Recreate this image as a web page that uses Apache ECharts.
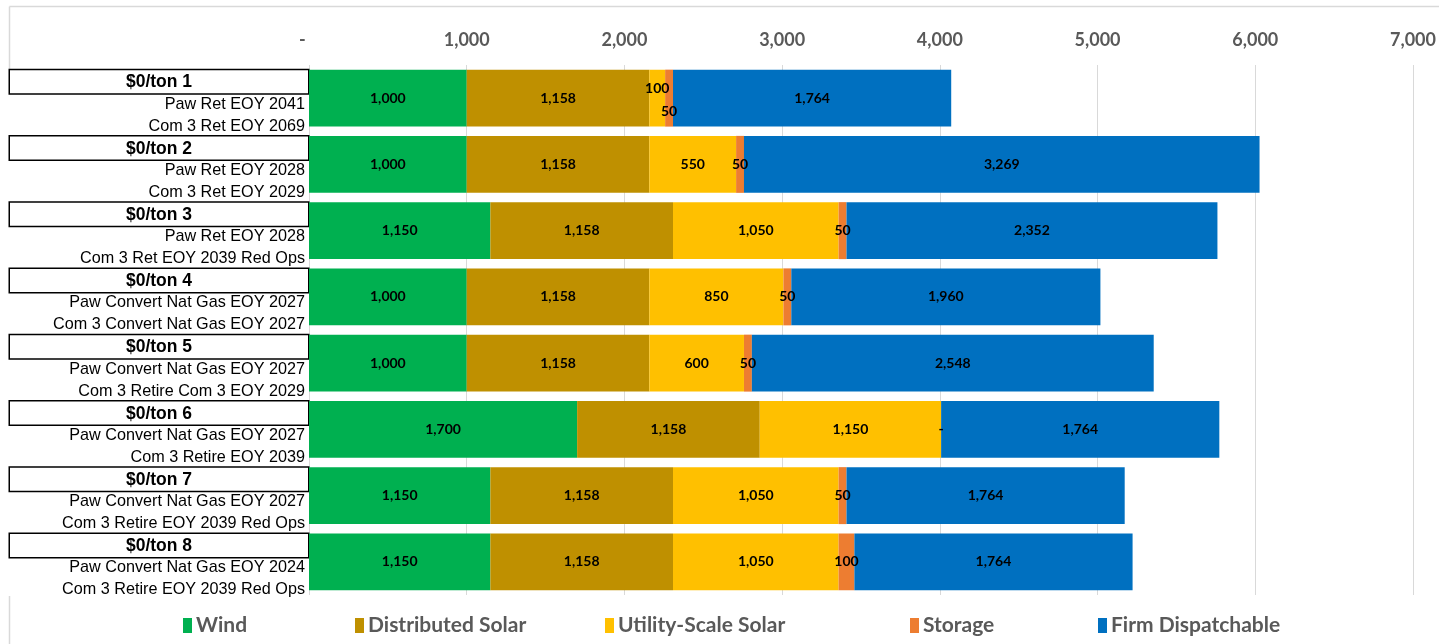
<!DOCTYPE html>
<html>
<head>
<meta charset="utf-8">
<title>Resource portfolio by scenario</title>
<script src="https://cdn.jsdelivr.net/npm/echarts@6/dist/echarts.min.js"></script>
<style>
  html, body { margin: 0; padding: 0; background: #fff; }
  #chart { width: 1439px; height: 644px; }
</style>
</head>
<body>
<div id="chart"></div>
<script>
// Scenario labels (three lines per row)
const scenarioTitles = ['$0/ton 1', '$0/ton 2', '$0/ton 3', '$0/ton 4', '$0/ton 5', '$0/ton 6', '$0/ton 7', '$0/ton 8'];
const pawLines = [
  'Paw Ret EOY 2041',
  'Paw Ret EOY 2028',
  'Paw Ret EOY 2028',
  'Paw Convert Nat Gas EOY 2027',
  'Paw Convert Nat Gas EOY 2027',
  'Paw Convert Nat Gas EOY 2027',
  'Paw Convert Nat Gas EOY 2027',
  'Paw Convert Nat Gas EOY 2024'
];
const comLines = [
  'Com 3 Ret EOY 2069',
  'Com 3 Ret EOY 2029',
  'Com 3 Ret EOY 2039 Red Ops',
  'Com 3 Convert Nat Gas EOY 2027',
  'Com 3 Retire Com 3 EOY 2029',
  'Com 3 Retire EOY 2039',
  'Com 3 Retire EOY 2039 Red Ops',
  'Com 3 Retire EOY 2039 Red Ops'
];

// Capacity by resource type (MW)
const seriesNames = ['Wind', 'Distributed Solar', 'Utility-Scale Solar', 'Storage', 'Firm Dispatchable'];
const wind       = [1000, 1000, 1150, 1000, 1000, 1700, 1150, 1150];
const distSolar  = [1158, 1158, 1158, 1158, 1158, 1158, 1158, 1158];
const utilSolar  = [100, 550, 1050, 850, 600, 1150, 1050, 1050];
const storage    = [50, 50, 50, 50, 50, 0, 50, 100];
const firm       = [1764, 3269, 2352, 1960, 2548, 1764, 1764, 1764];

// Value axis ticks
const axisMax = 7000;
const axisStep = 1000;

const colors = ['#00B050', '#BF9000', '#FFC000', '#ED7D31', '#0070C0'];
const seriesValues = [wind, distSolar, utilSolar, storage, firm];

// Nudges for crowded labels in the first row
const labelNudge = { 'Utility-Scale Solar': { 0: [0, -10] }, 'Storage': { 0: [0, 13] } };

// Left edge of each legend entry
const legendLeft = [183, 355, 605, 910, 1098];

function fmtNum(v) {
  if (v === 0) return '-';
  return v.toLocaleString('en-US');
}

const chart = echarts.init(document.getElementById('chart'), null, { renderer: 'canvas' });

const series = seriesNames.map((name, si) => ({
  name: name,
  type: 'bar',
  stack: 'total',
  barCategoryGap: '14%',
  itemStyle: { color: colors[si] },
  label: {
    show: true,
    position: 'inside',
    color: '#000',
    fontFamily: 'Lato',
    fontWeight: 'bold',
    fontSize: 14,
    formatter: p => fmtNum(p.value)
  },
  emphasis: { disabled: true },
  data: seriesValues[si].map((v, i) => {
    const nudge = labelNudge[name] && labelNudge[name][i];
    return nudge ? { value: v, label: { offset: nudge } } : v;
  })
}));

const legends = seriesNames.map((name, i) => ({
  bottom: 8,
  left: legendLeft[i],
  itemWidth: 9,
  itemHeight: 15,
  icon: 'rect',
  selectedMode: false,
  padding: 0,
  textStyle: {
    color: '#595959',
    fontFamily: 'Lato',
    fontWeight: 'bold',
    fontSize: 21,
    padding: [0, 0, 0, -1]
  },
  data: [name]
}));

chart.setOption({
  animation: false,
  backgroundColor: '#fff',
  color: colors,
  grid: { left: 309, right: 26, top: 65, bottom: 49, containLabel: false },
  xAxis: {
    type: 'value',
    position: 'top',
    min: 0,
    max: axisMax,
    interval: axisStep,
    axisLine: { show: false },
    axisTick: { show: false },
    splitLine: { show: true, lineStyle: { color: '#D9D9D9', width: 1 } },
    axisLabel: {
      margin: 16,
      color: '#595959',
      fontFamily: 'Lato',
      fontWeight: 'bold',
      fontSize: 18,
      formatter: v => (v === 0 ? '-   ' : v.toLocaleString('en-US'))
    }
  },
  yAxis: {
    type: 'category',
    inverse: true,
    data: scenarioTitles,
    axisLine: { show: false },
    axisTick: { show: false },
    splitLine: { show: false },
    axisLabel: {
      margin: 1,
      padding: [11, 0, 0, 0],
      formatter: (value, idx) => `{t|${value}}\n{s|${pawLines[idx]}}\n{s|${comLines[idx]}}`,
      rich: {
        t: {
          fontFamily: 'Liberation Sans',
          fontWeight: 'bold',
          fontSize: 17.5,
          color: '#000',
          width: 298,
          height: 19,
          lineHeight: 23,
          padding: [3, 0, 1, 0],
          align: 'center',
          borderColor: '#000',
          borderWidth: 1.5,
          backgroundColor: '#fff'
        },
        s: {
          fontFamily: 'Liberation Sans',
          fontSize: 16.2,
          color: '#000',
          lineHeight: 22,
          align: 'right',
          padding: [0, 3, 0, 0]
        }
      }
    }
  },
  legend: legends,
  graphic: [
    { type: 'line', silent: true, z: -1, shape: { x1: 9.5, y1: 6.5, x2: 1439, y2: 6.5 }, style: { stroke: '#D9D9D9', lineWidth: 1.5 } },
    { type: 'line', silent: true, z: -1, shape: { x1: 9.5, y1: 6.5, x2: 9.5, y2: 69 }, style: { stroke: '#D9D9D9', lineWidth: 1.5 } },
    { type: 'line', silent: true, z: -1, shape: { x1: 9.5, y1: 596, x2: 9.5, y2: 644 }, style: { stroke: '#D9D9D9', lineWidth: 1.5 } }
  ],
  series: series
});
</script>
</body>
</html>
